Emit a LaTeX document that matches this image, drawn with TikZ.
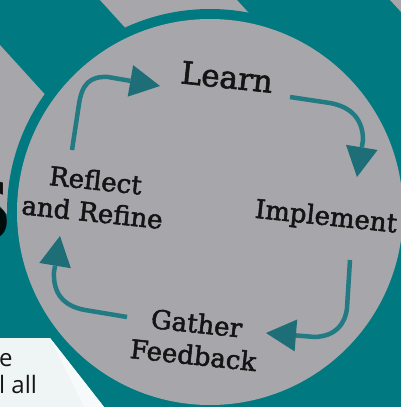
\documentclass[tikz,border=0pt]{standalone}
\usepackage{fontspec}
\newfontfamily\slabfont{DejaVu Serif}[FakeBold=2]
\newfontfamily\panelfont{Open Sans}
\newfontfamily\boldsans{DejaVu Sans}
\usetikzlibrary{arrows.meta}
\definecolor{tealbg}{RGB}{0,122,128}
\definecolor{greybg}{RGB}{167,166,171}
\definecolor{arrc}{RGB}{34,122,131}
\definecolor{headc}{RGB}{30,110,120}
\definecolor{panelc}{RGB}{239,244,244}
\definecolor{panelhi}{RGB}{246,250,250}
\definecolor{inkc}{RGB}{20,20,20}
\begin{document}
\begin{tikzpicture}[x=1pt,y=-1pt,
  cyc/.style={draw=arrc, line width=4.5pt, -{Triangle[length=30pt,width=32pt,color=headc,line width=0pt]}},
  lbl/.style={font=\slabfont\fontsize{26}{32}\selectfont, text=inkc, align=center, rotate=-6, inner sep=0pt},
  paneltext/.style={anchor=base west, font=\panelfont\fontsize{24}{27}\selectfont, text=inkc, inner sep=0pt},
]
\useasboundingbox (0,0) rectangle (401,407);
\clip (0,0) rectangle (401,407);
% background
\fill[tealbg] (0,0) rectangle (401,407);
\fill[greybg] (100,0) -- (237,0) -- (373,150) -- (236,150) -- cycle;
\fill[greybg] (-10,34) -- (100,155) -- (100,325) -- (-10,194) -- cycle;
\fill[greybg] (390,0) -- (402,0) -- (402,13) -- cycle;
% white panel
\fill[panelc] (0,338) -- (50,338) -- (104,407) -- (0,407) -- cycle;
\fill[panelhi] (50,338) -- (104,407) -- (84,407) -- cycle;
\node[paneltext] (pl1) at (-1,366) {e};
\node[paneltext] (pl2) at (-1,393) {l all};
% ring and disc
\coordinate (C) at (210,212);
\fill[tealbg] (C) circle[radius=203pt];
\fill[greybg] (C) circle[radius=193pt];
% partial big letter, cut by the left edge
\node[anchor=east, inner sep=0pt, text=black, opacity=0.9, font=\boldsans\bfseries\fontsize{80}{80}\selectfont] (bigS) at (13,210) {S};
% labels
\node[lbl, font=\slabfont\fontsize{31}{36}\selectfont] (learn) at (227,77) {Learn};
\node[lbl] (implement) at (326,218) {Implement};
\node[lbl] (reflect) at (94,196) {Reflect\\and Refine};
\node[lbl] (gather) at (195,339) {Gather\\Feedback};
% arrow end points
\coordinate (a1s) at (72,150);  \coordinate (a1e) at (160,86);
\coordinate (a2s) at (290,97);  \coordinate (a2e) at (357,177);
\coordinate (a3s) at (350,260); \coordinate (a3e) at (266,333);
\coordinate (a4s) at (127,317); \coordinate (a4e) at (60,236);
% cycle arrows
\draw[cyc] (a1s) -- (79,104) .. controls (82,84) and (90,76) .. (108,77) -- (a1e);
\draw[cyc] (a2s) -- (330,103) .. controls (352,107) and (363,120) .. (363,140) -- (a2e);
\draw[cyc] (a3s) -- (347,308) .. controls (345,325) and (335,336) .. (315,337) -- (a3e);
\draw[cyc] (a4s) -- (85,310) .. controls (63,306) and (53,293) .. (54,272) -- (a4e);
\end{tikzpicture}
\end{document}
